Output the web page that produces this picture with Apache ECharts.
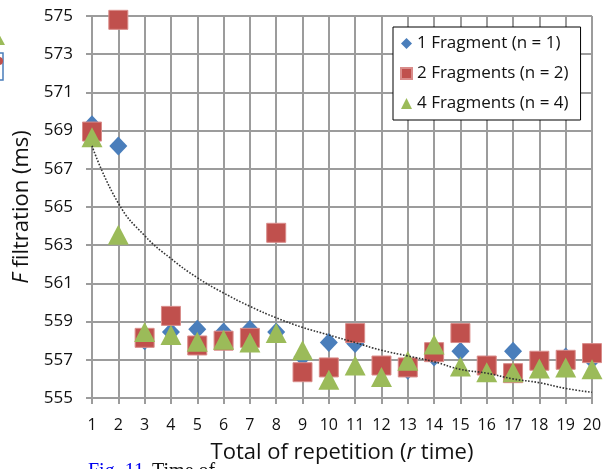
<!DOCTYPE html>
<html>
<head>
<meta charset="utf-8">
<script src="https://cdn.jsdelivr.net/npm/echarts@6/dist/echarts.min.js"></script>
<style>
html,body{margin:0;padding:0;background:#fff;}
#chart{width:608px;height:469px;}
</style>
</head>
<body>
<div id="chart"></div>
<script>
const categories = ['1','2','3','4','5','6','7','8','9','10','11','12','13','14','15','16','17','18','19','20'];
const fragment1 = [569.3, 568.2, 558.0, 558.45, 558.6, 558.45, 558.6, 558.45, 557.15, 557.9, 557.85, 556.6, 556.45, 557.15, 557.45, 556.75, 557.45, 556.9, 557.15, 557.0];
const fragment2 = [568.95, 574.8, 558.15, 559.3, 557.75, 558.0, 558.15, 563.65, 556.35, 556.6, 558.4, 556.7, 556.6, 557.4, 558.4, 556.7, 556.3, 556.95, 557.0, 557.35];
const fragment4 = [568.65, 563.55, 558.45, 558.3, 557.95, 558.05, 557.9, 558.4, 557.5, 555.95, 556.7, 556.1, 556.95, 557.8, 556.65, 556.35, 556.35, 556.55, 556.6, 556.5];
const trendline = [568.2, 565.2, 563.5, 562.3, 561.3, 560.5, 559.8, 559.2, 558.7, 558.3, 557.9, 557.5, 557.2, 556.9, 556.5, 556.3, 556.0, 555.8, 555.5, 555.3];
const seriesNames = ['1 Fragment (n = 1)', '2 Fragments (n = 2)', '4 Fragments (n = 4)'];
const yMin = 555, yMax = 575, yStep = 2;

const chart = echarts.init(document.getElementById('chart'));
const gridColor = '#9c9c9c';
const font = 'Open Sans';
const gridLine = {show: true, lineStyle: {color: gridColor, width: 2, type: 'solid', opacity: 1}};
chart.setOption({
  animation: false,
  textStyle: {fontFamily: font},
  grid: {left: 92, right: 16, top: 16, bottom: 71},
  legend: {
    orient: 'vertical',
    left: 393, top: 27,
    backgroundColor: '#fff',
    borderColor: '#000', borderWidth: 1,
    padding: [8, 12, 8, 7],
    itemWidth: 11, itemHeight: 11, itemGap: 13,
    textStyle: {fontSize: 17, color: '#111', fontFamily: font},
    data: [
      {name: seriesNames[0], icon: 'diamond'},
      {name: seriesNames[1], icon: 'rect'},
      {name: seriesNames[2], icon: 'triangle'}
    ]
  },
  xAxis: {
    type: 'category',
    data: categories,
    boundaryGap: false,
    name: '{n|Total of repetition (}{i|r}{n| time)}',
    nameLocation: 'middle',
    nameGap: 44,
    nameTextStyle: {rich: {n: {fontSize: 22, color: '#111', fontFamily: font}, i: {fontSize: 22, color: '#111', fontStyle: 'italic', fontFamily: font}}},
    axisLine: {show: true, lineStyle: {color: gridColor, width: 2}},
    axisTick: {show: true, alignWithLabel: true, length: 6, inside: false, lineStyle: {color: gridColor, width: 2}},
    axisLabel: {fontSize: 16, color: '#111', margin: 19, interval: 0},
    splitLine: gridLine
  },
  yAxis: {
    type: 'value',
    min: yMin, max: yMax, interval: yStep,
    name: '{i|F}{n| filtration (ms)}',
    nameLocation: 'middle',
    nameGap: 55,
    nameTextStyle: {rich: {n: {fontSize: 22, color: '#111', fontFamily: font}, i: {fontSize: 22, color: '#111', fontStyle: 'italic', fontFamily: font}}},
    axisLine: {show: true, lineStyle: {color: gridColor, width: 2}},
    axisTick: {show: true, length: 6, lineStyle: {color: gridColor, width: 2}},
    axisLabel: {fontSize: 17, color: '#111', margin: 19},
    splitLine: gridLine
  },
  series: [
    {name: seriesNames[0], type: 'scatter', data: fragment1, symbol: 'diamond', symbolSize: [18, 19],
     itemStyle: {color: '#4A7EBB', opacity: 1}},
    {name: seriesNames[1], type: 'scatter', data: fragment2, symbol: 'rect', symbolSize: 19,
     itemStyle: {color: '#C0504D', borderColor: '#d98c8a', borderWidth: 1, opacity: 1}},
    {name: seriesNames[2], type: 'scatter', data: fragment4, symbol: 'triangle', symbolSize: [21, 20],
     itemStyle: {color: '#9BBB59', opacity: 1}},
    {name: 'trend', type: 'line', data: trendline, smooth: true, symbol: 'none', silent: true,
     lineStyle: {color: '#333', width: 1.6, type: [1.6, 1.6]}, z: 5}
  ],
  graphic: [
    {type: 'polygon', shape: {points: [[-3, 30], [-11, 45], [5, 45]]}, style: {fill: '#9BBB59'}},
    {type: 'rect', shape: {x: -10, y: 53, width: 13, height: 27}, style: {fill: 'none', stroke: '#4A7EBB', lineWidth: 1.5}},
    {type: 'circle', shape: {cx: -1, cy: 61, r: 4}, style: {fill: '#C0504D'}},
    {type: 'text', left: -6, top: 415, style: {text: ')', fontSize: 18, fill: '#2a6fd0', fontFamily: 'Liberation Serif'}},
    {type: 'text', left: 88, top: 462, style: {text: 'Fig. 11.', fontSize: 20, fill: '#0000ee', fontFamily: 'Liberation Serif'}},
    {type: 'text', left: 152, top: 462, style: {text: 'Time of', fontSize: 20, fill: '#111', fontFamily: 'Liberation Serif'}}
  ]
});
</script>
</body>
</html>
